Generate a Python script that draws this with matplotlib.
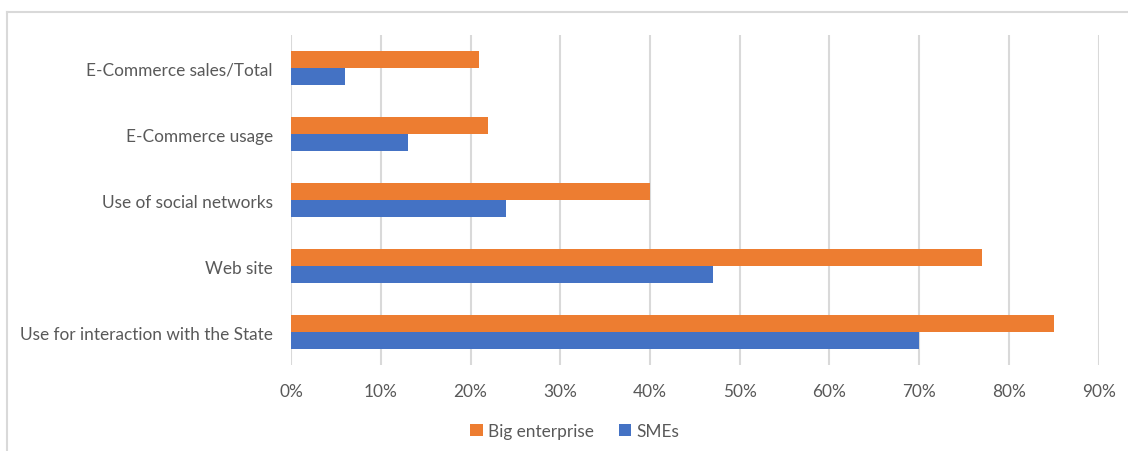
import matplotlib

matplotlib.use("Agg")

import matplotlib.pyplot as plt
import numpy as np
from matplotlib.lines import Line2D
from matplotlib.ticker import PercentFormatter


categories = [
    "E-Commerce sales/Total",
    "E-Commerce usage",
    "Use of social networks",
    "Web site",
    "Use for interaction with the State",
]
big_enterprise = [21, 22, 40, 77, 85]
smes = [6, 13, 24, 47, 70]
x_ticks = [0, 10, 20, 30, 40, 50, 60, 70, 80, 90]

ORANGE = "#ED7D31"
BLUE = "#4472C4"
TEXT = "#595959"
GRID = "#D9D9D9"

plt.rcParams["font.family"] = ["Lato", "DejaVu Sans"]

fig = plt.figure(figsize=(11.28, 4.52), dpi=100)
ax = fig.add_axes([0.258, 0.19, 0.716, 0.73])

# light frame around the chart area
fig.add_artist(Line2D([7 / 1128, 7 / 1128], [0, 1 - 13 / 452], color=GRID, lw=1.5))
fig.add_artist(Line2D([7 / 1128, 1], [1 - 13 / 452, 1 - 13 / 452], color=GRID, lw=1.5))

y = np.arange(len(categories))
h = 0.258
ax.barh(y - h / 2, big_enterprise, height=h, color=ORANGE, label="Big enterprise", zorder=3)
ax.barh(y + h / 2, smes, height=h, color=BLUE, label="SMEs", zorder=3)

ax.set_ylim(len(categories) - 0.5, -0.5)
ax.set_xlim(0, 90)
ax.set_xticks(x_ticks)
ax.xaxis.set_major_formatter(PercentFormatter(decimals=0))
ax.set_yticks(y)
ax.set_yticklabels(categories)

ax.grid(axis="x", color=GRID, lw=1.5, zorder=0)
for side in ax.spines.values():
    side.set_visible(False)
ax.tick_params(axis="both", length=0, colors=TEXT, labelsize=12.4)
ax.tick_params(axis="x", pad=13)
ax.tick_params(axis="y", pad=13)

ax.legend(
    loc="center",
    bbox_to_anchor=(575 / 1128, 1 - 432 / 452),
    bbox_transform=fig.transFigure,
    ncol=2,
    frameon=False,
    fontsize=12.4,
    labelcolor=TEXT,
    handlelength=0.7,
    handleheight=0.7,
    handletextpad=0.3,
    columnspacing=1.5,
)

fig.savefig("out.png", dpi=100, facecolor="white")
